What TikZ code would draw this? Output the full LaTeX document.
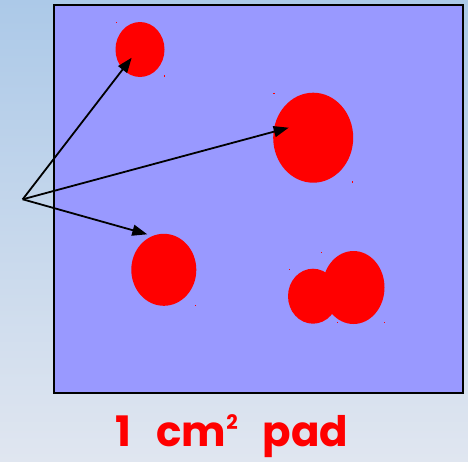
\documentclass[tikz,border=0pt]{standalone}
\usepackage{fontspec}
\newfontfamily\labelfont{Poppins}
\usetikzlibrary{arrows.meta,shapes.geometric}
\definecolor{padblue}{HTML}{9999FF}
\definecolor{bgtop}{RGB}{172,201,232}
\definecolor{bgbot}{RGB}{224,230,240}
\begin{document}
\begin{tikzpicture}[x=1pt,y=-1pt,
  blob/.style={ellipse,fill=red,draw=none,inner sep=0pt},
  speck/.style={fill=red,minimum size=1.2pt,inner sep=0pt,draw=none},
  pointer/.style={draw=black,line width=1.8pt,-{Triangle[length=15pt,width=11pt]}}]
  \shade[top color=bgtop,bottom color=bgbot] (0,0) rectangle (468,461);
  \useasboundingbox (0,0) rectangle (468,461);
  \node[draw=black,line width=2pt,fill=padblue,minimum width=409pt,minimum height=388pt,inner sep=0pt] (pad) at (258,199.2) {};
  \node[blob,minimum width=49pt,minimum height=55pt] (b1) at (140,49.5) {};
  \node[blob,minimum width=80pt,minimum height=90pt] (b2) at (313.2,137.7) {};
  \node[blob,minimum width=65pt,minimum height=72pt] (b3) at (163.8,269.8) {};
  \node[blob,minimum width=50pt,minimum height=55pt] (b4a) at (313,296.2) {};
  \node[blob,minimum width=62pt,minimum height=73pt] (b4b) at (353.5,287.5) {};
  \foreach \i/\p in {1/{(116.7,22.7)},2/{(164.3,76)},3/{(274,93.7)},4/{(352.7,182)},5/{(195.7,305.3)},6/{(321.3,252.3)},7/{(289.7,269.7)},8/{(337.3,322.7)},9/{(384.3,322.7)}}
    \node[speck] (s\i) at \p {};
  \coordinate (o) at (22.7,199.3);
  \coordinate (t1) at (131.7,57.7);
  \coordinate (t2) at (288.7,127.7);
  \coordinate (t3) at (147.3,234.3);
  \draw[pointer] (o) -- (t1);
  \draw[pointer] (o) -- (t2);
  \draw[pointer] (o) -- (t3);
  \node[text=red,font=\labelfont\bfseries\fontsize{42}{46}\selectfont,inner sep=0pt,anchor=base] (cap) at (232,446) {1\hspace{25pt}cm\raisebox{17pt}{\fontsize{20}{20}\selectfont 2}\hspace{25pt}pad};
\end{tikzpicture}
\end{document}
